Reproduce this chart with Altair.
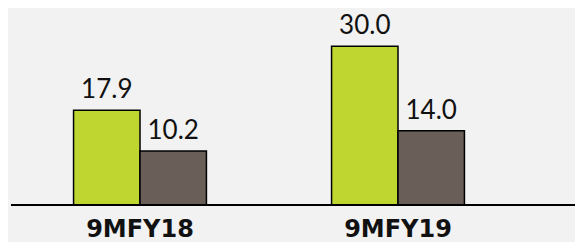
import altair as alt
import pandas as pd

periods = ["9MFY18", "9MFY19"]
series = ["A", "B"]
values_a = [17.9, 30.0]
values_b = [10.2, 14.0]
colors = ["#BFD630", "#6A5E59"]

rows = []
for i, p in enumerate(periods):
    rows.append({"period": p, "series": series[0], "value": values_a[i]})
    rows.append({"period": p, "series": series[1], "value": values_b[i]})
df = pd.DataFrame(rows)

x = alt.X(
    "period:N",
    sort=periods,
    scale=alt.Scale(range=[3, 519], paddingInner=0.485, paddingOuter=0.2425),
    axis=alt.Axis(
        title=None, domain=False, ticks=False, labelAngle=0,
        labelFont="DejaVu Sans", labelFontWeight="bold", labelFontSize=24,
        labelColor="#111111", labelBaseline="alphabetic", labelPadding=31,
    ),
)
xo = alt.XOffset("series:N", sort=series, scale=alt.Scale(paddingInner=0, paddingOuter=0))
y = alt.Y("value:Q", scale=alt.Scale(domain=[0, 37.2]), axis=None)

base = alt.Chart(df)
bars = base.mark_bar(stroke="black", strokeWidth=1.5).encode(
    x=x, xOffset=xo, y=y,
    color=alt.Color("series:N", scale=alt.Scale(domain=series, range=colors), legend=None),
)
labels = base.mark_text(dy=-12, baseline="alphabetic", font="Lato", fontSize=26, color="#111111").encode(
    x=x, xOffset=xo, y=y, text=alt.Text("value:Q", format=".1f"),
)
rule = alt.Chart(df).mark_rule(color="black", strokeWidth=2).encode(
    x=alt.value(3), x2=alt.value(567), y=alt.value(197)
)

chart = alt.layer(bars, labels, rule).properties(
    width=567, height=197,
    autosize=alt.AutoSizeParams(type="none"),
    padding={"left": 0, "top": 0, "right": 0, "bottom": 37},
).configure(background="#F2F2F2").configure_view(stroke=None)

chart.save("out.html", embed_options={"renderer": "svg", "actions": False})
